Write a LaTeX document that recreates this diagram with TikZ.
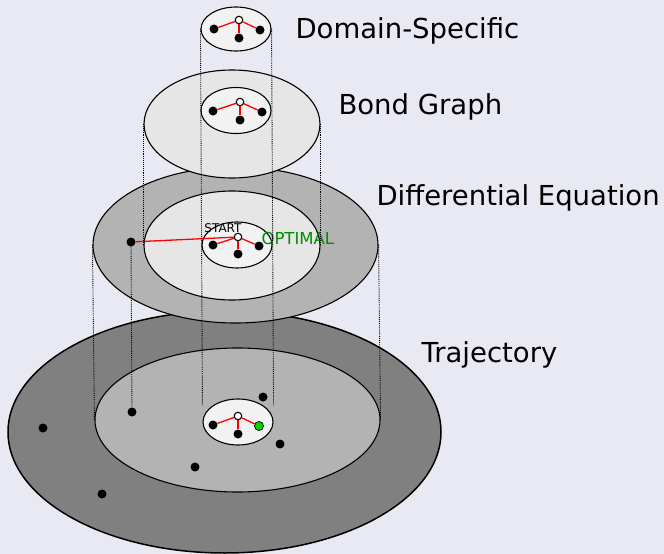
\documentclass[tikz,border=0pt]{standalone}
\usepackage{fontspec}
\setmainfont{DejaVu Sans}
\usetikzlibrary{shapes.geometric}
\definecolor{bg}{RGB}{233,233,243}
\definecolor{gA}{RGB}{128,128,128}
\definecolor{gB}{RGB}{179,179,179}
\definecolor{gC}{RGB}{230,230,230}
\definecolor{gD}{RGB}{242,242,242}
\definecolor{optgreen}{RGB}{0,140,0}
\tikzset{
  disc/.style={ellipse,draw=black,line width=1.1pt,inner sep=0pt},
  dotn/.style={circle,fill=black,inner sep=0pt,minimum size=9pt},
  opendot/.style={circle,draw=black,fill=white,line width=1.1pt,inner sep=0pt,minimum size=7.5pt},
  edge/.style={red,line width=1.3pt},
  guide/.style={densely dotted,line width=0.9pt},
  lab/.style={font=\fontsize{27.5}{27.5}\selectfont,anchor=west}
}
\begin{document}
\begin{tikzpicture}[x=1pt,y=-1pt]
\fill[bg] (0,0) rectangle (664,554);
\useasboundingbox (0,0) rectangle (664,554);
% Trajectory level
\node[disc,fill=gA,line width=1.5pt,minimum width=433,minimum height=242] (T0) at (224.5,432) {};
\node[disc,fill=gB,minimum width=285,minimum height=144] (T1) at (237.5,420) {};
\node[dotn] (td1) at (43,428) {};
\node[dotn] (td2) at (102,494) {};
\node[dotn] (td3) at (132,412) {};
\node[dotn] (td4) at (195,467) {};
\node[dotn] (td5) at (263,397) {};
\node[dotn] (td6) at (280,444) {};
\node[disc,fill=gD,minimum width=70,minimum height=46] (T2) at (238,422) {};
\node[opendot] (tr) at (238,416) {};
\node[dotn] (ta) at (213,425) {};
\node[dotn] (tb) at (238,434) {};
\node[dotn,fill=green!85!black,draw=black,line width=0.7pt] (tc) at (259,426) {};
\draw[edge] (tr) -- (ta); \draw[edge] (tr) -- (tb); \draw[edge] (tr) -- (tc);
% Differential level
\node[disc,fill=gB,minimum width=285,minimum height=156] (D0) at (235.5,245) {};
\node[disc,fill=gC,minimum width=176,minimum height=109] (D1) at (232,245.5) {};
\node[disc,fill=gD,minimum width=70,minimum height=46] (D2) at (237,245) {};
\node[dotn] (dd) at (131,242) {};
\node[opendot] (dr) at (238,237) {};
\node[dotn] (da) at (213,245) {};
\node[dotn] (db) at (238,254) {};
\node[dotn] (dc) at (259,246) {};
\draw[edge] (dr) -- (da); \draw[edge] (dr) -- (db); \draw[edge] (dr) -- (dc);
\draw[edge] (dd) -- (dr);
\node[font=\fontsize{12}{12}\selectfont] (start) at (223,228) {START};
\node[font=\fontsize{16.5}{16.5}\selectfont,text=optgreen,anchor=west] (opt) at (258,238) {OPTIMAL};
% Bond graph level
\node[disc,fill=gC,minimum width=176,minimum height=108] (B0) at (232,124) {};
\node[disc,fill=gD,minimum width=70,minimum height=46] (B1) at (236,110.5) {};
\node[opendot] (br) at (240,102) {};
\node[dotn] (ba) at (213,111) {};
\node[dotn] (bb) at (240,120) {};
\node[dotn] (bc) at (262,112) {};
\draw[edge] (br) -- (ba); \draw[edge] (br) -- (bb); \draw[edge] (br) -- (bc);
% Domain-specific level
\node[disc,fill=gD,minimum width=70,minimum height=44] (S0) at (236,29) {};
\node[opendot] (sr) at (239,20) {};
\node[dotn] (sa) at (214,29) {};
\node[dotn] (sb) at (239,38) {};
\node[dotn] (sc) at (260,30) {};
\draw[edge] (sr) -- (sa); \draw[edge] (sr) -- (sb); \draw[edge] (sr) -- (sc);
% guides
\draw[guide] (S0.west) -- (T2.west |- T2.north west);
\draw[guide] (S0.east) -- (T2.east |- T2.north east);
\draw[guide] (B0.west) -- (D1.west);
\draw[guide] (B0.east) -- (D1.east);
\draw[guide] (D0.west) -- (T1.west);
\draw[guide] (D0.east) -- (T1.east);
\draw[guide] (dd) -- (td3);
% labels
\node[lab] (l1) at (292,31) {Domain-Specific};
\node[lab] (l2) at (335,107) {Bond Graph};
\node[lab] (l3) at (373,198) {Differential Equation};
\node[lab] (l4) at (418,355) {Trajectory};
\end{tikzpicture}
\end{document}
